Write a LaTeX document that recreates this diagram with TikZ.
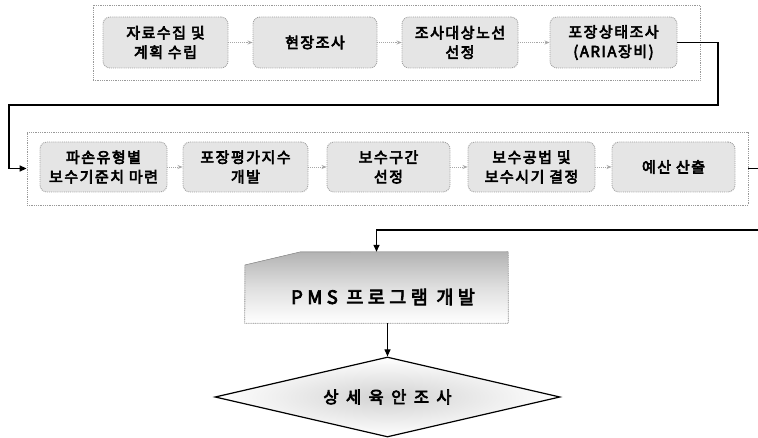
\documentclass[tikz,border=0pt]{standalone}
\usepackage{fontspec}
\setmainfont{Noto Sans CJK KR}[AutoFakeBold=4]
\usetikzlibrary{arrows.meta,shapes.geometric}
\tikzset{
  x=1pt,y=-1pt,
  stepbox/.style={draw=gray!75,densely dotted,line width=0.9pt,rounded corners=7pt,
    fill=gray!20,minimum height=51pt,align=center,inner sep=1pt,
    font=\fontsize{15}{19.5}\selectfont\bfseries\addfontfeature{LetterSpace=10}},
  outerbox/.style={draw=gray!80,densely dotted,line width=0.8pt},
  dotarrow/.style={draw=gray!70,densely dotted,line width=0.9pt,-{Stealth[length=5pt,width=4pt]}},
  mainline/.style={draw=black,line width=1.4pt},
  mainarrow/.style={mainline,-{Triangle[length=7pt,width=6pt]}}
}
\begin{document}
\begin{tikzpicture}
\useasboundingbox (0,0) rectangle (758,438);
% outer frames
\node[outerbox,minimum width=607pt,minimum height=75pt] (outerA) at (396.5,42.5) {};
\node[outerbox,minimum width=721pt,minimum height=73pt] (outerB) at (387.5,168.5) {};
% top row
\node[stepbox,minimum width=125pt] (t1) at (165.5,42.5) {자료수집 및\\계획 수립};
\node[stepbox,minimum width=124pt] (t2) at (315,42.5) {현장조사};
\node[stepbox,minimum width=116pt] (t3) at (460,42.5) {조사대상노선\\선정};
\node[stepbox,minimum width=127pt] (t4) at (613.5,42.5) {포장상태조사\\(ARIA장비)};
% second row
\node[stepbox,minimum width=127pt,minimum height=50pt] (b1) at (103.5,167) {파손유형별\\보수기준치 마련};
\node[stepbox,minimum width=125pt,minimum height=50pt] (b2) at (245.5,167) {포장평가지수\\개발};
\node[stepbox,minimum width=123pt,minimum height=50pt] (b3) at (388.5,167) {보수구간\\선정};
\node[stepbox,minimum width=127pt,minimum height=50pt] (b4) at (531.5,167) {보수공법 및\\보수시기 결정};
\node[stepbox,minimum width=123pt,minimum height=50pt] (b5) at (673.5,167) {예산 산출};
% dotted arrows
\draw[dotarrow] (t1) -- (t2);
\draw[dotarrow] (t2) -- (t3);
\draw[dotarrow] (t3) -- (t4);
\draw[dotarrow] (b1) -- (b2);
\draw[dotarrow] (b2) -- (b3);
\draw[dotarrow] (b3) -- (b4);
\draw[dotarrow] (b4) -- (b5);
% PMS box
\node[minimum width=263pt,minimum height=71pt,inner sep=0pt] (pms) at (376.5,287.5) {};
\fill[top color=gray!60,bottom color=white,middle color=gray!25]
  (pms.south west) -- (245,265) -- (300,252) -- (pms.north east) -- (pms.south east) -- cycle;
\draw[draw=gray!80,densely dotted,line width=0.8pt]
  (245,265) -- (pms.south west) -- (pms.south east) -- (pms.north east);
\draw[draw=gray!80,line width=0.6pt] (245,265) -- (300,252) -- (pms.north east);
\node[font=\fontsize{18.5}{20}\selectfont\bfseries\addfontfeature{LetterSpace=24}] (pmstext) at (383,297) {PMS 프로그램 개발};
% diamond
\node[diamond,draw=black,line width=1.2pt,minimum width=345pt,minimum height=80pt,inner sep=0pt,
  shading=radial,inner color=gray!35,outer color=white] (dia) at (387.5,397) {};
\node[font=\fontsize{16.5}{18}\selectfont\bfseries\addfontfeature{LetterSpace=45}] (diatext) at (387.5,397) {상세육안조사};
% main connectors
\coordinate (c1) at (718,105);
\coordinate (c2) at (9,105);
\draw[mainarrow] (t4.east) -| (c1) -- (c2) |- (outerB.west);
\coordinate (c3) at (775,168.5);
\coordinate (c4) at (775,230);
\draw[mainarrow] (outerB.east) -- (c3) -- (c4) -| (pms.north);
\draw[mainarrow,line width=1.1pt] (pms.south -| dia.north) -- (dia.north);
\end{tikzpicture}
\end{document}
